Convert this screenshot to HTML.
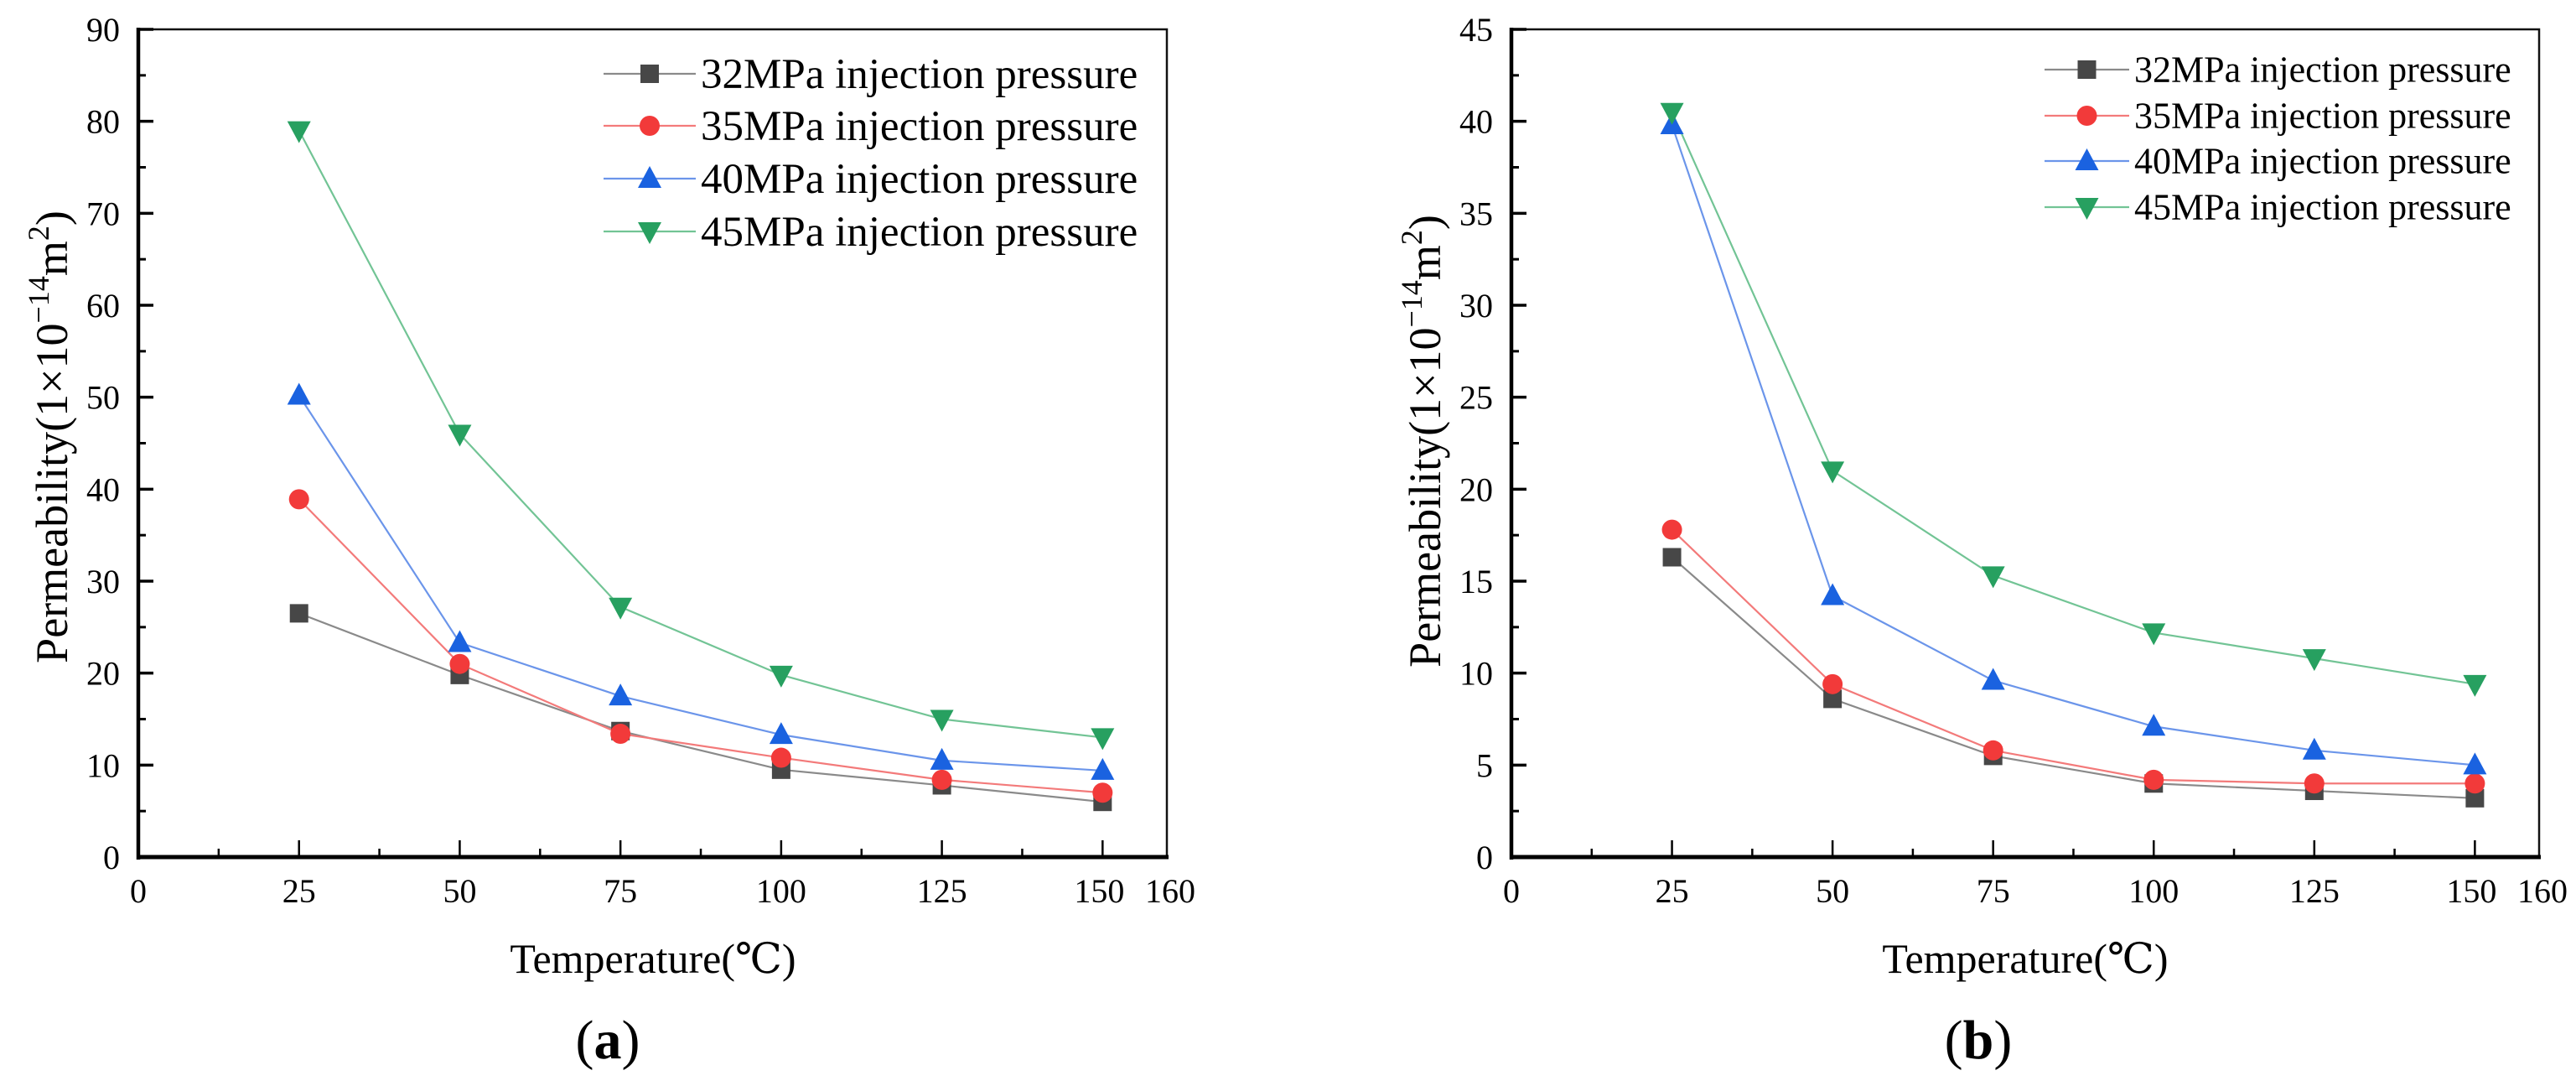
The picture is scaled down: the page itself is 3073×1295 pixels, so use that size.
<!DOCTYPE html>
<html><head><meta charset="utf-8">
<style>
html,body{margin:0;padding:0;background:#fff;}
svg{display:block;font-family:"Liberation Serif","DejaVu Serif",serif;}
svg text{font-family:"Liberation Serif","DejaVu Serif",serif;}
</style></head>
<body>
<svg id="fig" width="3073" height="1295" viewBox="0 0 3073 1295" xmlns="http://www.w3.org/2000/svg" font-family="Liberation Serif, serif"></svg>
<script>
const temps = [25, 50, 75, 100, 125, 150];
const seriesNames = ["32MPa injection pressure","35MPa injection pressure","40MPa injection pressure","45MPa injection pressure"];
const a32 = [26.5, 19.8, 13.7, 9.5, 7.8, 6.0];
const a35 = [38.9, 21.0, 13.4, 10.8, 8.4, 7.0];
const a40 = [50.2, 23.3, 17.5, 13.3, 10.5, 9.4];
const a45 = [79.0, 46.0, 27.2, 19.8, 15.0, 13.0];
const b32 = [16.3, 8.6, 5.5, 4.0, 3.6, 3.2];
const b35 = [17.8, 9.4, 5.8, 4.2, 4.0, 4.0];
const b40 = [39.8, 14.2, 9.6, 7.1, 5.8, 5.0];
const b45 = [40.5, 21.0, 15.3, 12.2, 10.8, 9.4];
const xTicks = [0, 25, 50, 75, 100, 125, 150, 160];
const yTicksA = [0,10,20,30,40,50,60,70,80,90];
const yTicksB = [0,5,10,15,20,25,30,35,40,45];

const NS = "http://www.w3.org/2000/svg";
const FF = '"Liberation Serif", "DejaVu Serif", serif';
const svg = document.getElementById("fig");
function mk(tag, attrs, parent){
  const e = document.createElementNS(NS, tag);
  for (const k in attrs) e.setAttribute(k, attrs[k]);
  if (tag==="text") e.style.fontFamily = FF;
  (parent||svg).appendChild(e);
  return e;
}
const colors = ["#474747","#f23a3a","#1a62e0","#27a060"];
const lineColors = ["#8a8a8a","#f37a7a","#6b95ea","#72c495"];

function marker(g, type, cx, cy, col, name){
  let m;
  if (type===0) m = mk("rect",{x:cx-11,y:cy-11,width:22,height:22,fill:col},g);
  else if (type===1) m = mk("circle",{cx:cx,cy:cy,r:12,fill:col},g);
  else if (type===2) m = mk("polygon",{points:`${cx},${cy-15} ${cx-14},${cy+11} ${cx+14},${cy+11}`,fill:col},g);
  else m = mk("polygon",{points:`${cx},${cy+15} ${cx-14},${cy-11} ${cx+14},${cy-11}`,fill:col},g);
  
  
  return m;
}

function chart(cfg){
  const g = mk("g",{});
  
  
  const L=cfg.L, R=cfg.R, T=35, B=1022;
  const xs = v => L + v/160*(R-L);
  const ys = v => B - v/cfg.ymax*(B-T);
  cfg.series.forEach((vals, si) => {
    const pts = vals.map((v,i)=>xs(temps[i])+","+ys(v)).join(" ");
    const pl = mk("polyline",{points:pts,fill:"none",stroke:lineColors[si],"stroke-width":2.2},g);
    
    
  });
  cfg.series.forEach((vals, si) => {
    vals.forEach((v,i)=>{ marker(g, si, xs(temps[i]), ys(v), colors[si], 'point-'+si+'-'+temps[i]); });
  });
  const fr = mk("rect",{x:L,y:T,width:R-L,height:B-T,fill:"none",stroke:"#111","stroke-width":2.5},g);
  
  
  const la = mk("line",{x1:L,y1:T-2,x2:L,y2:B+3,stroke:"#000","stroke-width":4.5},g);
  
  
  const ba = mk("line",{x1:L-2,y1:B,x2:R+2,y2:B,stroke:"#000","stroke-width":5},g);
  
  
  const step = cfg.yticks[1]-cfg.yticks[0];
  cfg.yticks.forEach(v=>{
    const y=ys(v);
    if (v>0) mk("line",{x1:L,y1:y,x2:L+18,y2:y,stroke:"#000","stroke-width":3.5},g);
    if (v<cfg.ymax){ const ym=ys(v+step/2); mk("line",{x1:L,y1:ym,x2:L+9,y2:ym,stroke:"#000","stroke-width":3},g); }
    const t = mk("text",{x:L-22,y:y+14,"text-anchor":"end","font-size":cfg.tickFont},g);
    t.textContent = v;
    
    
  });
  for (let v=12.5; v<160; v+=12.5){
    const x=xs(v); const major = (v%25===0);
    mk("line",{x1:x,y1:B,x2:x,y2:B-(major?20:10),stroke:"#000","stroke-width":2.5},g);
  }
  xTicks.forEach(v=>{
    const t = mk("text",{x:xs(v)+(v===150?-4:(v===160?4:0)),y:1076,"text-anchor":"middle","font-size":cfg.tickFont},g);
    t.textContent = v;
    
    
  });
  const xt = mk("text",{x:cfg.xtX,y:1160,"text-anchor":"middle","font-size":50},g);
  xt.textContent = "Temperature(\u2103)";
  
  
  const yt = mk("text",{x:0,y:0,"text-anchor":"middle","font-size":54,transform:`translate(${cfg.ytX},${cfg.ytY}) rotate(-90)`},g);
  yt.innerHTML = 'Permeability(1\u00d710<tspan font-size="36" dy="-22">\u221214</tspan><tspan dy="22">m</tspan><tspan font-size="36" dy="-22">2</tspan><tspan dy="22">)</tspan>';
  
  
  const lg = mk("g",{},g);
  
  
  seriesNames.forEach((n,si)=>{
    const y = cfg.legY[si];
    const e = mk("g",{},lg);
    
    
    mk("line",{x1:cfg.legX0,y1:y,x2:cfg.legX1,y2:y,stroke:lineColors[si],"stroke-width":2.2},e);
    marker(e, si, (cfg.legX0+cfg.legX1)/2, y, colors[si], 'legend-marker');
    const t = mk("text",{x:cfg.legX1+6,y:y+cfg.legFont*0.33,"font-size":cfg.legFont},e);
    t.textContent = n;
    
    
  });
  const pl = mk("text",{x:cfg.panelX,y:1262,"text-anchor":"middle","font-size":66},g);
  pl.innerHTML = '(<tspan font-weight="bold">'+cfg.panel+'</tspan>)';
  
  
}

chart({name:"chart-a",L:165,R:1392,ymax:90,yticks:yTicksA,series:[a32,a35,a40,a45],tickFont:40,
  xtX:779,ytX:80,ytY:521,legX0:720,legX1:830,legY:[88,150,213,276],legFont:51,panelX:725,panel:"a"});
chart({name:"chart-b",L:1803,R:3029,ymax:45,yticks:yTicksB,series:[b32,b35,b40,b45],tickFont:40,
  xtX:2416,ytX:1718,ytY:526,legX0:2439,legX1:2540,legY:[83,138,192,247],legFont:44,panelX:2360,panel:"b"});
</script>
</body></html>
